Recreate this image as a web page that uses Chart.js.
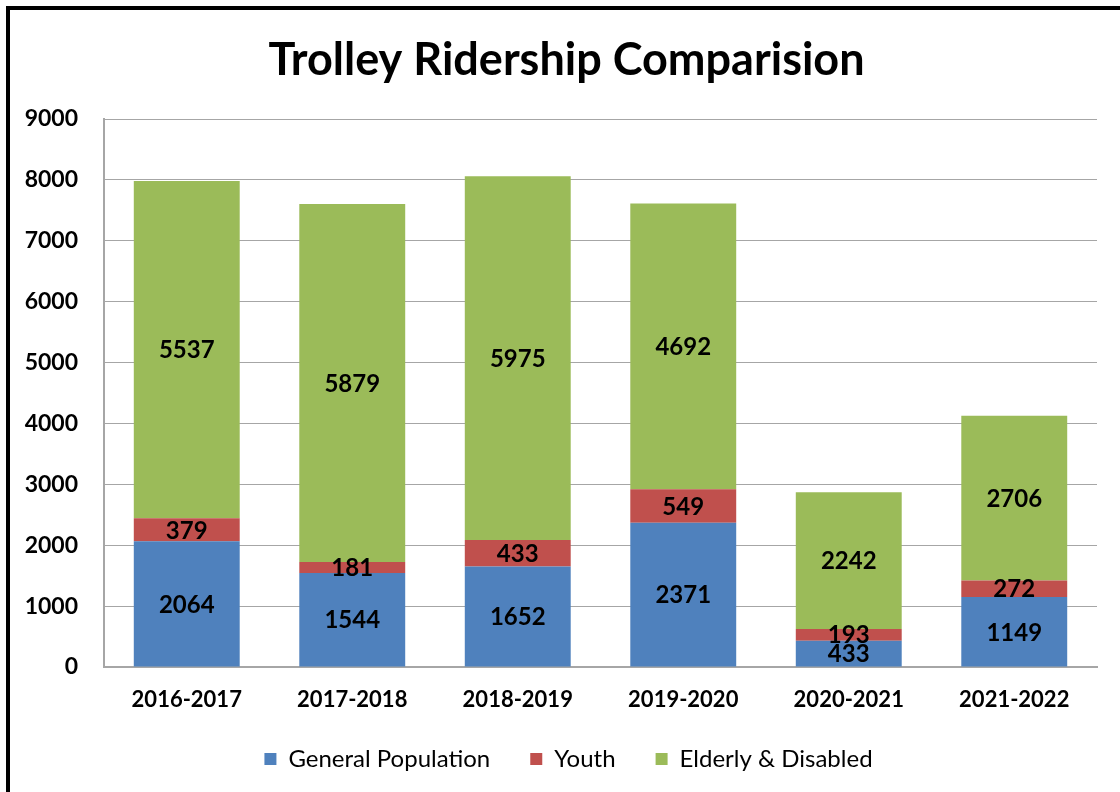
<!DOCTYPE html>
<html>
<head>
<meta charset="utf-8">
<title>Trolley Ridership Comparision</title>
<script src="https://cdn.jsdelivr.net/npm/chart.js@4"></script>
<style>
    body { margin: 0; background: #fff; }
    #wrap { position: relative; width: 1120px; height: 792px; overflow: hidden; }
    #frame {
        position: absolute; left: 6px; top: 6px; width: 1200px; height: 900px;
        border-left: 4px solid #000; border-top: 4px solid #000;
        pointer-events: none;
    }
    canvas { position: absolute; left: 0; top: 0; }
</style>
</head>
<body>
<div id="wrap">
    <canvas id="chart" width="1120" height="792"></canvas>
    <div id="frame"></div>
</div>
<script>
const years = ['2016-2017', '2017-2018', '2018-2019', '2019-2020', '2020-2021', '2021-2022']
const generalPopulation = [2064, 1544, 1652, 2371, 433, 1149]
const youth = [379, 181, 433, 549, 193, 272]
const elderlyDisabled = [5537, 5879, 5975, 4692, 2242, 2706]
const yTicks = [0, 1000, 2000, 3000, 4000, 5000, 6000, 7000, 8000, 9000]

const FONT = 'Lato'
const gridColor = '#a6a6a6'

// writes the value in the middle of every stacked segment
const segmentLabels = {
    id: 'segmentLabels',
    afterDatasetsDraw(chart) {
        const ctx = chart.ctx
        ctx.save()
        ctx.font = `bold 24px ${FONT}`
        ctx.fillStyle = '#000'
        ctx.textAlign = 'center'
        ctx.textBaseline = 'middle'
        chart.data.datasets.forEach((ds, i) => {
            chart.getDatasetMeta(i).data.forEach((bar, j) => {
                const { x, y, base } = bar.getProps(['x', 'y', 'base'], true)
                ctx.fillText(String(ds.data[j]), x, (y + base) / 2 + 1)
            })
        })
        ctx.restore()
    },
}

// title and legend sit a little right of the canvas centre in the original
const nudgeBlocks = {
    id: 'nudgeBlocks',
    afterLayout(chart) {
        if (chart.titleBlock) {
            chart.titleBlock.left += 18
            chart.titleBlock.right += 18
        }
        if (chart.legend) {
            chart.legend.left += 20
            chart.legend.right += 20
        }
    },
}

new Chart(document.getElementById('chart'), {
    type: 'bar',
    data: {
        labels: years,
        datasets: [
            { label: 'General Population', data: generalPopulation, backgroundColor: '#4f81bd' },
            { label: 'Youth', data: youth, backgroundColor: '#c0504d' },
            { label: 'Elderly & Disabled', data: elderlyDisabled, backgroundColor: '#9bbb59' },
        ],
    },
    options: {
        responsive: false,
        animation: false,
        layout: { padding: { left: 0, right: 23, top: 0, bottom: 11 } },
        datasets: { bar: { barPercentage: 0.64, categoryPercentage: 1, borderWidth: 0 } },
        plugins: {
            title: {
                display: true,
                text: 'Trolley Ridership Comparision',
                color: '#000',
                font: { family: FONT, size: 45, weight: 'bold', lineHeight: 1.2 },
                padding: { top: 33, bottom: 32 },
            },
            legend: {
                position: 'bottom',
                labels: {
                    color: '#000',
                    font: { family: FONT, size: 24 },
                    boxWidth: 12,
                    boxHeight: 12,
                    padding: 40,
                },
            },
            tooltip: { enabled: false },
        },
        scales: {
            x: {
                stacked: true,
                afterFit: scale => { scale.height = 40 },
                grid: { display: false, drawTicks: false },
                border: { color: gridColor, width: 2 },
                ticks: { color: '#000', padding: 20, font: { family: FONT, size: 22, weight: 'bold' } },
            },
            y: {
                stacked: true,
                min: yTicks[0],
                max: yTicks[yTicks.length - 1],
                afterFit: scale => { scale.width = 104 },
                afterBuildTicks: scale => { scale.ticks = yTicks.map(v => ({ value: v })) },
                grid: { color: gridColor, drawTicks: false },
                border: { color: gridColor, width: 2 },
                ticks: {
                    color: '#000',
                    padding: 26,
                    font: { family: FONT, size: 23, weight: 'bold' },
                    callback: value => String(value),
                },
            },
        },
    },
    plugins: [segmentLabels, nudgeBlocks],
})
</script>
</body>
</html>
